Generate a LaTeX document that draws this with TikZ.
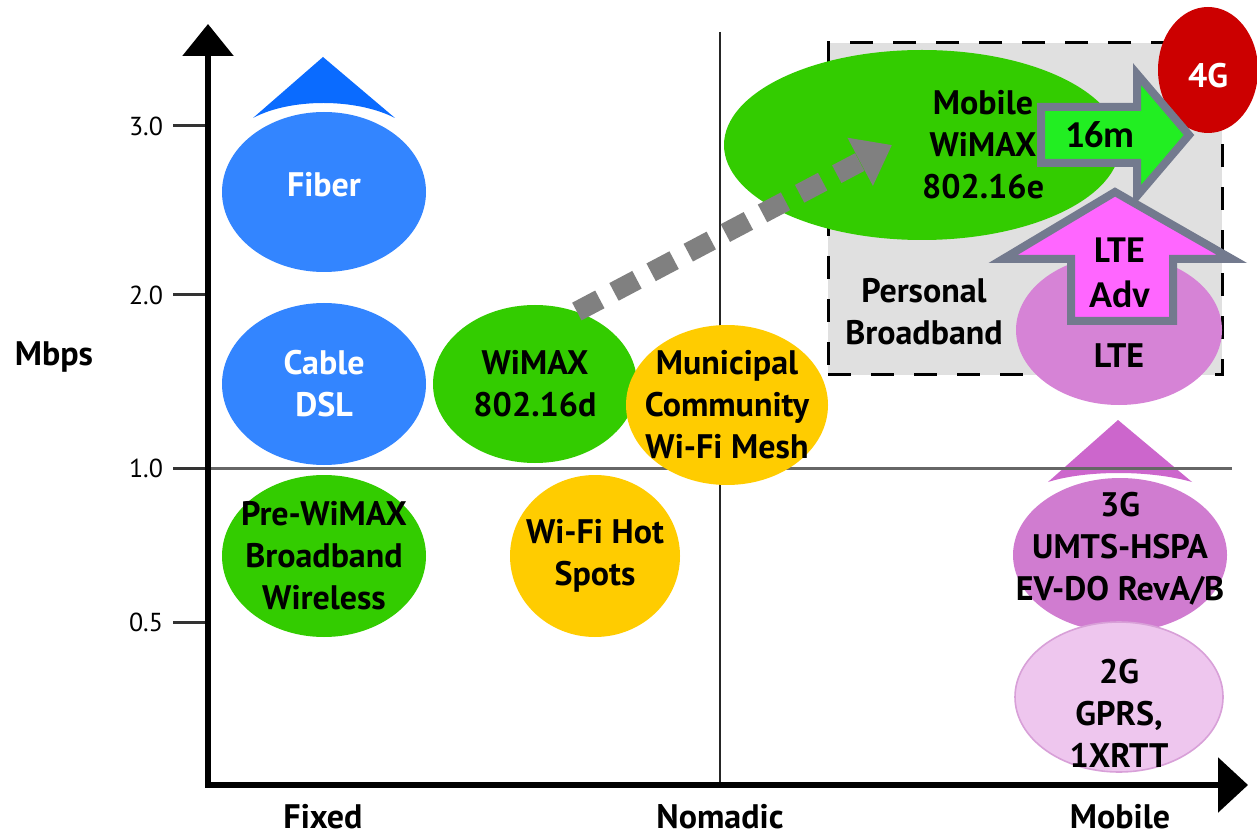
\documentclass[tikz,border=0pt]{standalone}
\usepackage{fontspec}
\setmainfont{PT Sans}
\newfontfamily\calibrifont{Carlito}
\usetikzlibrary{arrows.meta}
\usetikzlibrary{positioning}
\usetikzlibrary{shapes.geometric}
\definecolor{netblue}{HTML}{3385FF}
\definecolor{tipblue}{HTML}{0A6BFF}
\definecolor{netgreen}{HTML}{33CC00}
\definecolor{netyellow}{HTML}{FFCC00}
\definecolor{fourgred}{HTML}{CC0000}
\definecolor{ltepink}{HTML}{D683D6}
\definecolor{threegpurple}{HTML}{D07CD0}
\definecolor{twogpink}{HTML}{EEC6EE}
\definecolor{twogedge}{HTML}{D8A0D8}
\definecolor{tripurple}{HTML}{CC66CC}
\definecolor{zonegray}{HTML}{E0E0E0}
\definecolor{trendgray}{HTML}{808080}
\definecolor{blockedge}{HTML}{737A8E}
\definecolor{blockgreen}{HTML}{22EE22}
\definecolor{blockmagenta}{HTML}{FF66FF}
\newcommand\bubblefont{\bfseries\fontsize{17pt}{21pt}\selectfont}
\tikzset{
	bubble/.style={ellipse, inner sep=0pt},
	txt/.style={align=center, font=\bubblefont},
	wtxt/.style={txt, text=white},
	zone/.style={rectangle, draw, fill=zonegray, line width=1.5pt, dash pattern=on 11.5pt off 10pt, inner sep=0pt},
	axis/.style={line width=3pt, {Triangle[length=16pt,width=25pt]}-{Triangle[length=15pt,width=27pt]}},
	tick/.style={line width=1.5pt, black!80},
	ticklabel/.style={font=\fontsize{13pt}{15pt}\selectfont},
	axislabel/.style={font=\bfseries\fontsize{17pt}{20pt}\selectfont},
	trend/.style={draw=trendgray, line width=10pt, dash pattern=on 13pt off 8pt, -{Triangle[length=18pt,width=26pt]}},
	block/.style={draw=blockedge, line width=4pt, line join=miter},
	blocktxt/.style={align=center, font=\calibrifont\bfseries\fontsize{19pt}{22.5pt}\selectfont}
}
\begin{document}
\begin{tikzpicture}[x=0.5pt, y=-0.5pt]
\useasboundingbox[fill=white] (0,0) rectangle (1257,839);

% personal broadband zone
\node[zone, minimum width=197pt, minimum height=166pt] (personal) at (1025,209) {};
\node[txt] (personaltxt) at (924,312) {Personal\\Broadband};

% rising triangles
\fill[tipblue] (323,57) -- (395,118) .. controls (356,98) and (290,98) .. (253,118) -- cycle;
\fill[tripurple] (1118,420) -- (1192,482) .. controls (1150,470) and (1086,470) .. (1048,482) -- cycle;

% grid and axes
\draw[line width=1.5pt, black!60] (173,468) -- (1232,468);
\draw[line width=1pt, black!85] (720,32) -- (720,785);
\foreach \y/\t in {126/3.0, 295/2.0, 468/1.0, 622/0.5} {
	\draw[tick] (173,\y) -- (208,\y);
	\node[ticklabel] at (146,\y) {\t};
}
\coordinate (ytip) at (208,24);
\coordinate (origin) at (208,785);
\coordinate (xtip) at (1248,785);
\draw[axis] (ytip) -- (origin) -- (xtip);

\node[axislabel] (mbps) at (54,357) {Mbps};
\node[axislabel] (fixed) at (323,817) {Fixed};
\node[axislabel] (nomadic) at (720,817) {Nomadic};
\node[axislabel] (mobile) at (1120,817) {Mobile};

% fixed
\node[bubble, fill=netblue, minimum width=102pt, minimum height=80pt,
	label={[wtxt, yshift=3.5pt]center:Fiber}] (fiber) at (324,192) {};
\node[bubble, fill=netblue, minimum width=102pt, minimum height=81pt,
	label={[wtxt]center:Cable\\DSL}] (cable) at (324,384) {};
\node[bubble, fill=netgreen, minimum width=102pt, minimum height=81pt,
	label={[txt]center:Pre-WiMAX\\Broadband\\Wireless}] (prewimax) at (324,556) {};

% nomadic
\node[bubble, fill=netgreen, minimum width=102pt, minimum height=79pt,
	label={[txt]center:WiMAX\\802.16d}] (wimaxd) at (535,384) {};
\node[bubble, fill=netyellow, minimum width=101pt, minimum height=80pt,
	label={[txt]center:Municipal\\Community\\Wi-Fi Mesh}] (mesh) at (727,405) {};
\node[bubble, fill=netyellow, minimum width=85pt, minimum height=81pt,
	label={[txt]center:Wi-Fi Hot\\Spots}] (hotspots) at (595,556) {};

% mobile
\node[bubble, fill=netgreen, minimum width=198pt, minimum height=95pt,
	label={[txt, xshift=30.5pt]center:Mobile\\WiMAX\\802.16e}] (wimaxe) at (922,145) {};
\node[bubble, fill=ltepink, minimum width=103pt, minimum height=75pt,
	label={[txt, yshift=-13pt]center:LTE}] (lte) at (1119,330) {};
\node[bubble, fill=threegpurple, minimum width=107pt, minimum height=77pt,
	label={[txt, yshift=3pt]center:3G\\UMTS-HSPA\\EV-DO RevA/B}] (threeg) at (1120,555) {};
\node[bubble, fill=twogpink, draw=twogedge, line width=0.8pt, minimum width=104pt, minimum height=75pt,
	label={[txt, yshift=-8pt]center:2G\\GPRS,\\1XRTT}] (twog) at (1119,697) {};
\node[bubble, fill=fourgred, minimum width=50pt, minimum height=63pt,
	label={[wtxt, yshift=-3pt]center:4G}] (fourg) at (1208,70) {};

% trend
\coordinate (trendtip) at (892,145);
\draw[trend] (wimaxd.60) -- (trendtip);

% evolution arrows
\filldraw[block, fill=blockgreen] (1041,107) -- (1137,107) -- (1137,74) -- (1189,135)
	-- (1137,196) -- (1137,163) -- (1041,163) -- cycle;
\node[blocktxt] (sixteenm) at (1100,135) {16m};
\filldraw[block, fill=blockmagenta] (1071,321) -- (1071,259) -- (1003,259) -- (1115,192)
	-- (1232,259) -- (1173,259) -- (1173,321) -- cycle;
\node[blocktxt] (lteadv) at (1120,273) {LTE\\Adv};

\end{tikzpicture}
\end{document}
